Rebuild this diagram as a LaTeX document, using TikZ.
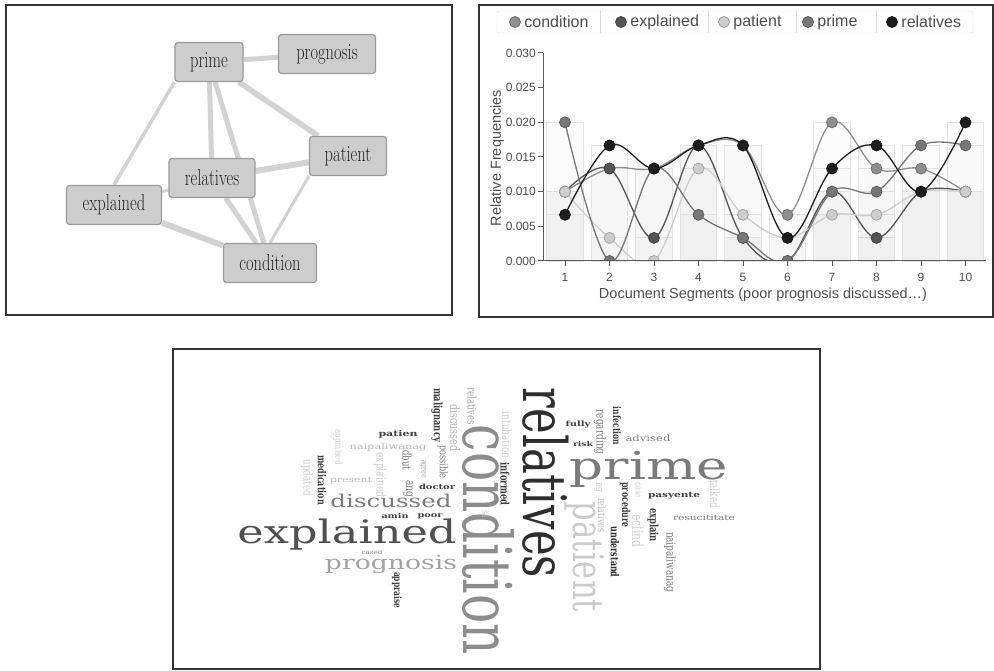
\documentclass[tikz,border=0pt]{standalone}
\usepackage{fontspec}
\usepackage{tikz}
\usetikzlibrary{backgrounds}

\newfontfamily\chartfont{Liberation Sans}
\newfontfamily\cloudfont{DejaVu Serif}

\definecolor{nodefill}{HTML}{CDCDCD}
\definecolor{nodeline}{HTML}{9A9A9A}
\definecolor{edgecol}{HTML}{D2D2D2}
\definecolor{conditioncol}{HTML}{8E8E8E}
\definecolor{explainedcol}{HTML}{545454}
\definecolor{patientcol}{HTML}{CDCDCD}
\definecolor{primecol}{HTML}{777777}
\definecolor{relativescol}{HTML}{1E1E1E}
\definecolor{wblack}{HTML}{2E2E2E}
\definecolor{wdark}{HTML}{3E3E3E}
\definecolor{wmid}{HTML}{505050}
\definecolor{wgray}{HTML}{7A7A7A}
\definecolor{wcond}{HTML}{8C8C8C}
\definecolor{wsilver}{HTML}{A2A2A2}
\definecolor{wlight}{HTML}{B6B6B6}
\definecolor{wpale}{HTML}{CBCBCB}

\newcommand{\glabel}[1]{\scalebox{1}[1.4]{#1}}
% length, series (m or b), word
\newcommand{\hword}[3]{\scalebox{1.38}[1]{\resizebox{\dimexpr #1pt*100/138\relax}{!}{\cloudfont\fontseries{#2}\selectfont #3}}}
\newcommand{\vword}[3]{\scalebox{1.38}[1]{\rotatebox{-90}{\resizebox{#1pt}{!}{\cloudfont\fontseries{#2}\selectfont #3}}}}

\begin{document}
\begin{tikzpicture}[x=1pt,y=-1pt,
    panel/.style={draw=black!80,line width=1.5pt},
    gnode/.style={draw=nodeline,fill=nodefill,rounded corners=3pt,minimum height=39pt,
      line width=1.2pt,text=black!85,font=\fontsize{16.5}{18}\selectfont},
    gedge/.style={draw=edgecol},
    dot/.style={circle,minimum size=11pt,inner sep=0pt,line width=0.8pt},
    ctext/.style={font=\chartfont\fontsize{12}{14}\selectfont,text=black!70},
    bar/.style={fill=black,fill opacity=0.01,draw=gray!22,line width=0.8pt},
    series/.style={line width=1.3pt,draw=#1col,mark=*,mark size=5.5pt,
      mark options={fill=#1col,draw=#1col!80!black,line width=0.8pt}},
    word/.style={inner sep=0pt}]

    \useasboundingbox (0,0) rectangle (994,671);

    % Co-occurrence graph
    \draw[panel] (6,5) rectangle (452,315);
    \node[gnode,minimum width=68pt] (prime) at (209,62) {\glabel{prime}};
    \node[gnode,minimum width=97pt] (prognosis) at (327,54) {\glabel{prognosis}};
    \node[gnode,minimum width=77pt] (patient) at (348,156) {\glabel{patient}};
    \node[gnode,minimum width=86pt] (relatives) at (212,178) {\glabel{relatives}};
    \node[gnode,minimum width=95pt] (explained) at (114,205) {\glabel{explained}};
    \node[gnode,minimum width=93pt] (condition) at (270,263) {\glabel{condition}};

    \begin{scope}[on background layer]
      \draw[gedge,line width=5pt] (prime) -- (prognosis);
      \draw[gedge,line width=3.5pt] (prime.south west) -- (explained.north);
      \draw[gedge,line width=5pt] (prime) -- (relatives);
      \draw[gedge,line width=5pt] (prime) -- (condition);
      \draw[gedge,line width=5.5pt] (prime) -- (patient);
      \draw[gedge,line width=6pt] (relatives) -- (patient);
      \draw[gedge,line width=3pt] (relatives) -- (explained);
      \draw[gedge,line width=5pt] (relatives) -- (condition);
      \draw[gedge,line width=6pt] (explained) -- (condition);
      \draw[gedge,line width=3pt] (patient.south west) -- (condition.north);
    \end{scope}

    % Frequency chart
    \draw[panel] (479,5) rectangle (993,317);

    % legend
    \draw[gray!30,rounded corners=2pt] (497,11) rectangle (973,33);
    \foreach \x in {600,708,796,876}
      \draw[gray!30] (\x,11) -- (\x,33);
    \foreach \x/\s in {515/condition,621/explained,724/patient,808/prime,892/relatives}{
      \node[dot,fill=\s col,draw=\s col!75!black] (lg\s) at (\x,22) {};
      \node[ctext,anchor=west,font=\chartfont\fontsize{16}{18}\selectfont] (lt\s) at (lg\s.east) {\s};
    }

    % bars and curves
    \begin{scope}[shift={(520.5,261)},x=44.5pt,y=23.11pt]
      \foreach \d in {{3,4,4,5,5,2,6,4,4,3},{3,4,1,5,1,0,3,1,3,3},{3,1,0,4,2,1,2,2,3,3},
          {6,0,4,2,1,0,3,3,5,5},{2,5,4,5,5,1,4,5,3,6}}
        \foreach \v [count=\i] in \d
          \draw[bar] (\i-0.41,0) rectangle (\i+0.41,\v);
      \clip (0.5,0) rectangle (10.5,9);
      \draw[series=condition] plot[smooth,tension=0.6] coordinates
        {(1,3) (2,4) (3,4) (4,5) (5,5) (6,2) (7,6) (8,4) (9,4) (10,3)};
      \draw[series=explained] plot[smooth,tension=0.6] coordinates
        {(1,3) (2,4) (3,1) (4,5) (5,1) (6,0) (7,3) (8,1) (9,3) (10,3)};
      \draw[series=patient] plot[smooth,tension=0.6] coordinates
        {(1,3) (2,1) (3,0) (4,4) (5,2) (6,1) (7,2) (8,2) (9,3) (10,3)};
      \draw[series=prime] plot[smooth,tension=0.6] coordinates
        {(1,6) (2,0) (3,4) (4,2) (5,1) (6,0) (7,3) (8,3) (9,5) (10,5)};
      \draw[series=relatives] plot[smooth,tension=0.6] coordinates
        {(1,2) (2,5) (3,4) (4,5) (5,5) (6,1) (7,4) (8,5) (9,3) (10,6)};
    \end{scope}

    % axes
    \draw[black!65,line width=1pt] (543,53) -- (543,261) -- (986,261);
    \foreach \y/\t [count=\i] in {261/0.000,226.3/0.005,191.7/0.010,157/0.015,122.3/0.020,87.7/0.025,53/0.030}{
      \draw[black!65,line width=1pt] (538,\y) -- (543,\y);
      \node[ctext,anchor=east,inner sep=1pt] (yt\i) at (537,\y) {\t};
    }
    \foreach \i in {1,...,10}{
      \draw[black!65,line width=1pt] ({565+(\i-1)*44.5},261) -- ({565+(\i-1)*44.5},266);
      \node[ctext] (xt\i) at ({565+(\i-1)*44.5},277) {\i};
    }
    \node[ctext,font=\chartfont\fontsize{14.5}{16}\selectfont] (xtitle) at (763,295)
      {Document Segments (poor prognosis discussed…)};
    \node[ctext,font=\chartfont\fontsize{14.5}{16}\selectfont,rotate=90] (ytitle) at (497,158)
      {Relative Frequencies};

    % Word cloud
    \draw[panel] (173,349) rectangle (820,669);
    \foreach \x/\y/\len/\col/\fs/\word [count=\i] in {
        347/535/219/wmid/m/explained, 391/565/132/wsilver/m/prognosis,
        391/501/121/wgray/m/discussed, 649/469/158/wgray/m/prime,
        398/434/39/wdark/b/patien, 388/447/77/wlight/m/naipaliwanag,
        351/481/42/wlight/m/present, 437/487/36/wdark/b/doctor,
        395/516/27/wdark/b/amin, 430/516/25/wdark/b/poor,
        372/553/21/wgray/m/cased, 578/425/25/wdark/b/fully,
        583/444/20/wdark/b/risk, 648/438/45/wgray/m/advised,
        674/496/52/wdark/b/pasyente, 704/518/62/wgray/m/resucititate}
      \node[word,text=\col] (hw\i) at (\x,\y) {\hword{\len}{\fs}{\word}};
    \foreach \x/\y/\len/\col/\fs/\word [count=\i] in {
        488/540/230/wcond/m/condition, 546/483/190/wblack/m/relatives,
        585/557/110/wpale/m/patient, 437/415/54/wdark/b/malignancy,
        472/406/37/wsilver/m/relatives, 455/428/47/wlight/m/discussed,
        443/462/33/wgray/m/possible, 338/447/35/wpale/m/appraised,
        307/478/37/wpale/m/updated, 322/480/50/wdark/b/medication,
        380/475/45/wpale/m/explained, 407/460/20/wgray/m/dbut,
        423/469/18/wsilver/m/agree, 408/489/17/wgray/m/ang,
        485/514/8/wpale/m/sa, 397/590/36/wdark/b/appraise,
        507/435/46/wpale/m/intubation, 505/484/43/wdark/b/informed,
        600/432/45/wgray/m/regarding, 617/426/38/wdark/b/infection,
        598/487/10/wpale/m/ng, 602/515/34/wlight/m/relatives,
        625/505/45/wdark/b/procedure, 638/490/15/wpale/m/case,
        638/531/33/wpale/m/eclind, 715/494/28/wpale/m/talked,
        653/525/34/wdark/b/explain, 615/552/51/wblack/b/understand,
        670/562/60/wgray/m/naipaliwanag}
      \node[word,text=\col] (vw\i) at (\x,\y) {\vword{\len}{\fs}{\word}};

\end{tikzpicture}
\end{document}
